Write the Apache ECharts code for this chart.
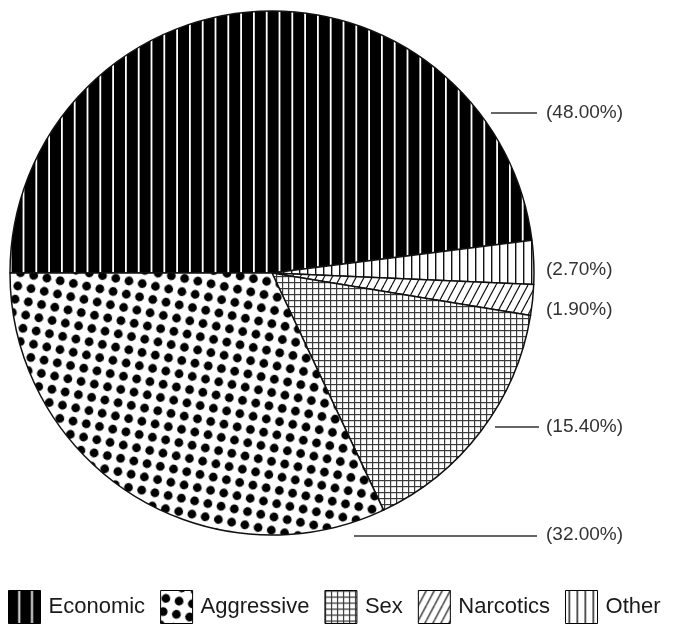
<!DOCTYPE html>
<html>
<head>
<meta charset="utf-8">
<script src="https://cdn.jsdelivr.net/npm/echarts@6/dist/echarts.min.js"></script>
<style>
  html, body { margin: 0; padding: 0; background: #fff; }
  #chart { width: 673px; height: 625px; }
</style>
</head>
<body>
<div id="chart"></div>
<script>
// Offence categories, in clockwise order starting from 9 o'clock
const categories = ['Economic', 'Other', 'Narcotics', 'Sex', 'Aggressive'];
const shares = [48.0, 2.7, 1.9, 15.4, 32.0];
// Order the categories appear in the key
const legendOrder = ['Economic', 'Aggressive', 'Sex', 'Narcotics', 'Other'];

// Where each percentage label sits (px)
const labelX = 546;
const labelY = [113, 270, 310, 427, 535];
// Short horizontal leader rules next to some labels: [x1, x2, y]
const leaders = [[491, 537, 113], [495, 539, 427], [354, 537, 536]];

function tile(w, h, draw) {
  const c = document.createElement('canvas');
  c.width = w; c.height = h;
  const g = c.getContext('2d');
  draw(g, w, h);
  return c;
}

// Hatch fills for each category
const fills = {
  Economic: {
    image: tile(64, 4, (g, w, h) => {
      g.fillStyle = '#000'; g.fillRect(0, 0, w, h);
      g.fillStyle = '#fff';
      for (let k = 0; k < 5; k++) g.fillRect(10.7 + k * 12.8 - 0.9, 0, 1.8, h);
    }),
    repeat: 'repeat'
  },
  Other: {
    image: tile(8, 4, (g, w, h) => {
      g.fillStyle = '#fff'; g.fillRect(0, 0, w, h);
      g.fillStyle = '#111'; g.fillRect(3, 0, 1.4, h);
    }),
    repeat: 'repeat'
  },
  Narcotics: {
    image: tile(8, 15, (g, w, h) => {
      g.fillStyle = '#fff'; g.fillRect(0, 0, w, h);
      g.strokeStyle = '#111'; g.lineWidth = 1.2;
      for (const off of [-w, 0, w]) {
        g.beginPath(); g.moveTo(off, h); g.lineTo(off + w, 0); g.stroke();
      }
    }),
    repeat: 'repeat'
  },
  Sex: {
    image: tile(6, 6, (g, w, h) => {
      g.fillStyle = '#fff'; g.fillRect(0, 0, w, h);
      g.fillStyle = '#3a3a3a';
      g.fillRect(0, 0, 1.2, h);
      g.fillRect(0, 0, w, 1.2);
    }),
    repeat: 'repeat'
  },
  Aggressive: {
    // 2x2 block of dots on a 13.5px lattice
    image: tile(27, 27, (g, w, h) => {
      g.fillStyle = '#fff'; g.fillRect(0, 0, w, h);
      g.fillStyle = '#000';
      for (const cx of [6.75, 20.25]) {
        for (const cy of [6.75, 20.25]) {
          g.beginPath(); g.arc(cx, cy, 4.4, 0, Math.PI * 2); g.fill();
        }
      }
    }),
    repeat: 'repeat',
    rotation: 0.2
  }
};

const chart = echarts.init(document.getElementById('chart'), null, { renderer: 'canvas' });

chart.setOption({
  backgroundColor: '#fff',
  animation: false,
  legend: {
    data: legendOrder,
    left: 8,
    top: 590,
    padding: 0,
    icon: 'rect',
    itemWidth: 32,
    itemHeight: 33,
    itemGap: 15,
    itemStyle: { borderColor: '#000', borderWidth: 1 },
    textStyle: {
      fontFamily: 'Liberation Sans',
      fontSize: 22,
      color: '#1a1a1a',
      padding: [0, 0, 0, 3]
    },
    selectedMode: false
  },
  graphic: leaders.map(([x1, x2, y]) => ({
    type: 'line',
    silent: true,
    shape: { x1: x1, y1: y, x2: x2, y2: y },
    style: { stroke: '#333', lineWidth: 1.3 }
  })),
  series: [{
    type: 'pie',
    center: [272, 273],
    radius: 262,
    startAngle: 180,
    clockwise: true,
    avoidLabelOverlap: false,
    emphasis: { disabled: true },
    itemStyle: { borderColor: '#111', borderWidth: 1.5 },
    label: {
      show: true,
      position: 'outside',
      fontFamily: 'Liberation Sans',
      fontSize: 19,
      color: '#333',
      formatter: p => '(' + p.value.toFixed(2) + '%)'
    },
    labelLine: { show: false },
    labelLayout: p => ({
      x: labelX,
      y: labelY[p.dataIndex],
      align: 'left',
      verticalAlign: 'middle'
    }),
    data: categories.map((name, i) => ({
      name: name,
      value: shares[i],
      itemStyle: { color: fills[name] }
    }))
  }]
});
</script>
</body>
</html>
